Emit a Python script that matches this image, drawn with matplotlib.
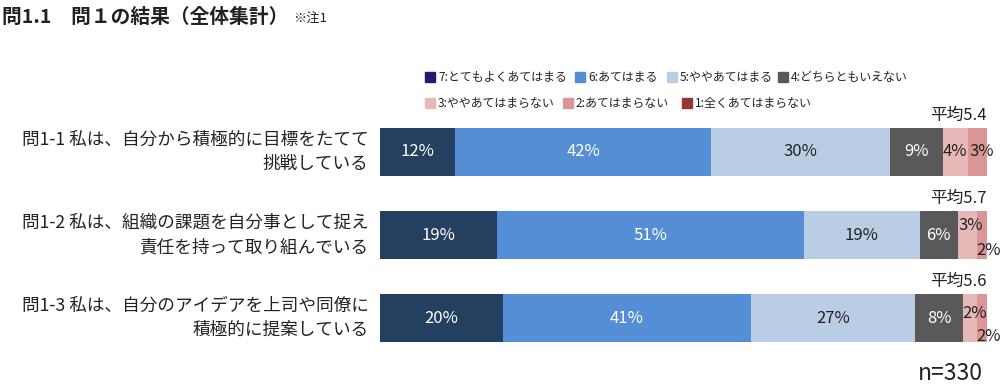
import matplotlib
matplotlib.use("Agg")
import matplotlib.pyplot as plt
from matplotlib.patches import Rectangle

plt.rcParams['font.family'] = ['Noto Sans CJK JP', 'DejaVu Sans']

categories = ["問1-1 私は、自分から積極的に目標をたてて\n挑戦している",
              "問1-2 私は、組織の課題を自分事として捉え\n責任を持って取り組んでいる",
              "問1-3 私は、自分のアイデアを上司や同僚に\n積極的に提案している"]
series_names = ["7:とてもよくあてはまる", "6:あてはまる", "5:ややあてはまる", "4:どちらともいえない",
                "3:ややあてはまらない", "2:あてはまらない", "1:全くあてはまらない"]
values = [
    [12.4, 42.1, 29.6, 8.7, 4.1, 3.1, 0.0],
    [19.2, 50.6, 19.1, 6.3, 3.2, 1.6, 0.0],
    [20.3, 40.8, 27.1, 7.8, 2.4, 1.6, 0.0],
]
averages = ["5.4", "5.7", "5.6"]
n_label = "n=330"

bar_colors = ["#253f60", "#558ed5", "#b9cde5", "#595959", "#e6b9b8", "#d99694", "#953735"]
legend_colors = ["#1f1b70", "#558ed5", "#b9cde5", "#595959", "#e6b9b8", "#d99694", "#953735"]
text_colors = ["white", "white", "#222222", "white", "#222222", "#222222", "#222222"]

fig = plt.figure(figsize=(10, 3.85), dpi=100)
ax = fig.add_axes([0.38, 1 - 360 / 385, 0.607, 250 / 385])
ax.set_xlim(0, 100)
ax.set_ylim(2.506, -0.506)
ax.axis('off')

# label placement tweaks for narrow segments: (row, series) -> (x, dy)
small_pos = {
    (0, 4): (94.7, 0.0), (0, 5): (99.2, 0.0),
    (1, 4): (97.4, -0.11), (1, 5): (100.2, 0.19),
    (2, 4): (98.0, -0.05), (2, 5): (100.2, 0.22),
}

bar_h = 0.58
for i, row in enumerate(values):
    left = 0
    for j, v in enumerate(row):
        if v > 0:
            ax.barh(i, v, left=left, height=bar_h, color=bar_colors[j], edgecolor='none')
            label = f"{v:.0f}%"
            if (i, j) in small_pos:
                x, dy = small_pos[(i, j)]
            else:
                x, dy = left + v / 2, 0.0
            ax.text(x, i + dy, label, ha='center', va='center', fontsize=12,
                    color=text_colors[j])
        left += v
    ax.text(100, i - 0.445, f"平均{averages[i]}", ha='right', va='center', fontsize=12,
            color="#222222")

# category labels
for i, c in enumerate(categories):
    ax.text(-1.9, i, c, ha='right', va='center', fontsize=12.7, color="#222222",
            linespacing=1.45)

# title
fig.text(0.002, 1 - 17 / 385, "問1.1　問１の結果（全体集計）", fontsize=14.2, fontweight='bold',
         ha='left', va='center', color="#222222")
fig.text(0.293, 1 - 19 / 385, "※注1", fontsize=9.5, ha='left', va='center', color="#222222")

# legend
leg_pos = [(425, 77), (575, 77), (667, 77), (778, 77), (425, 103), (563, 103), (682, 103)]
for k, (name, (px, py)) in enumerate(zip(series_names, leg_pos)):
    fig.patches.append(Rectangle((px / 1000, 1 - (py + 5) / 385), 10 / 1000, 10 / 385,
                                 transform=fig.transFigure, color=legend_colors[k]))
    fig.text((px + 13) / 1000, 1 - py / 385, name, fontsize=8.6, ha='left', va='center',
             color="#222222")

fig.text(0.983, 1 - 373 / 385, n_label, fontsize=16.5, ha='right', va='center', color="#222222")

fig.savefig("out.png", dpi=100)
